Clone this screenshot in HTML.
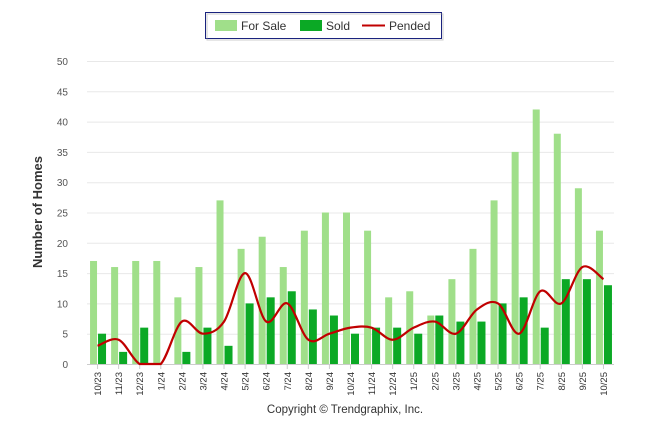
<!DOCTYPE html>
<html><head><meta charset="utf-8"><style>
body{margin:0;background:#fff;font-family:"Liberation Sans",sans-serif;}
svg text{font-family:"Liberation Sans",sans-serif;}
</style></head><body>
<svg id="c" width="646" height="434">
<g>
<rect x="205.5" y="12.5" width="236" height="26" fill="#fff" stroke="#1a237e" stroke-width="1"/>
<rect x="207" y="14" width="236" height="26" fill="none" stroke="#999" stroke-width="1" opacity="0.5"/>
<rect x="215" y="20" width="22" height="11" fill="#a0df8a"/>
<text x="241" y="30" font-size="12" fill="#333">For Sale</text>
<rect x="300" y="20" width="22" height="11" fill="#0ba925"/>
<text x="326" y="30" font-size="12" fill="#333">Sold</text>
<line x1="362" y1="25.5" x2="385" y2="25.5" stroke="#c00000" stroke-width="2"/>
<text x="389" y="30" font-size="12" fill="#333">Pended</text>
</g>
<text transform="translate(42,212) rotate(-90)" text-anchor="middle" font-size="13" font-weight="bold" fill="#333">Number of Homes</text>
<text x="345" y="413" text-anchor="middle" font-size="11.5" fill="#333">Copyright © Trendgraphix, Inc.</text>
<g id="grid"></g><g id="bars"></g><g id="line"></g><g id="xl"></g>
</svg>
<script>
const categories=["10/23","11/23","12/23","1/24","2/24","3/24","4/24","5/24","6/24","7/24","8/24","9/24","10/24","11/24","12/24","1/25","2/25","3/25","4/25","5/25","6/25","7/25","8/25","9/25","10/25"];
const forSale=[17,16,17,17,11,16,27,19,21,16,22,25,25,22,11,12,8,14,19,27,35,42,38,29,22];
const sold=[5,2,6,0,2,6,3,10,11,12,9,8,5,6,6,5,8,7,7,10,11,6,14,14,13];
const pended=[3,4,0,0,7,5,7,15,7,10,4,5,6,6,4,6,7,5,9,10,5,12,10,16,14];
const yTicks=[0,5,10,15,20,25,30,35,40,45,50];
const NS="http://www.w3.org/2000/svg";
const L=87,R=614,T=61,B=364,yMax=50;
const bw=(R-L)/categories.length;
const y=v=>B-(B-T)*v/yMax;
const xc=i=>L+bw*(i+0.5);
function mk(t,a,p){const e=document.createElementNS(NS,t);for(const k in a)e.setAttribute(k,a[k]);p.appendChild(e);return e;}
const g=document.getElementById('grid');
yTicks.forEach(v=>{
 const ln=mk('line',{x1:L,x2:R,y1:y(v)+0.5,y2:y(v)+0.5,stroke:v===0?'#ccc':'#e8e8e8'},g);
 
 
 const t=mk('text',{x:68,y:y(v)+4,'text-anchor':'end','font-size':10,fill:'#555'},g);
 t.textContent=v;
 
 
});
const bg=document.getElementById('bars');
categories.forEach((c,i)=>{
 const a=mk('rect',{x:xc(i)-7.5,y:y(forSale[i]),width:7,height:B-y(forSale[i]),fill:'#a0df8a'},bg);
 
 
 const b=mk('rect',{x:xc(i)+0.5,y:y(sold[i]),width:8,height:B-y(sold[i]),fill:'#0ba925'},bg);
 
 
 const tk=mk('line',{x1:xc(i),x2:xc(i),y1:B,y2:B+5,stroke:'#ccc'},bg);
 
 
 const t=mk('text',{transform:`translate(${xc(i)+3.5},${B+8}) rotate(-90)`,'text-anchor':'end','font-size':9.5,fill:'#333'},document.getElementById('xl'));
 t.textContent=c;
 
 
});
const pts=pended.map((v,i)=>[xc(i),y(v)]);
const cl=v=>Math.min(B,v);
let d=`M${pts[0][0]},${pts[0][1]}`;
for(let i=0;i<pts.length-1;i++){
 const p0=pts[Math.max(0,i-1)],p1=pts[i],p2=pts[i+1],p3=pts[Math.min(pts.length-1,i+2)];
 const c1=[p1[0]+(p2[0]-p0[0])/6,cl(p1[1]+(p2[1]-p0[1])/6)];
 const c2=[p2[0]-(p3[0]-p1[0])/6,cl(p2[1]-(p3[1]-p1[1])/6)];
 d+=` C${c1[0]},${c1[1]} ${c2[0]},${c2[1]} ${p2[0]},${p2[1]}`;
}
const pl=mk('path',{d:d,fill:'none',stroke:'#c00000','stroke-width':2.2},document.getElementById('line'));


</script>
</body></html>
